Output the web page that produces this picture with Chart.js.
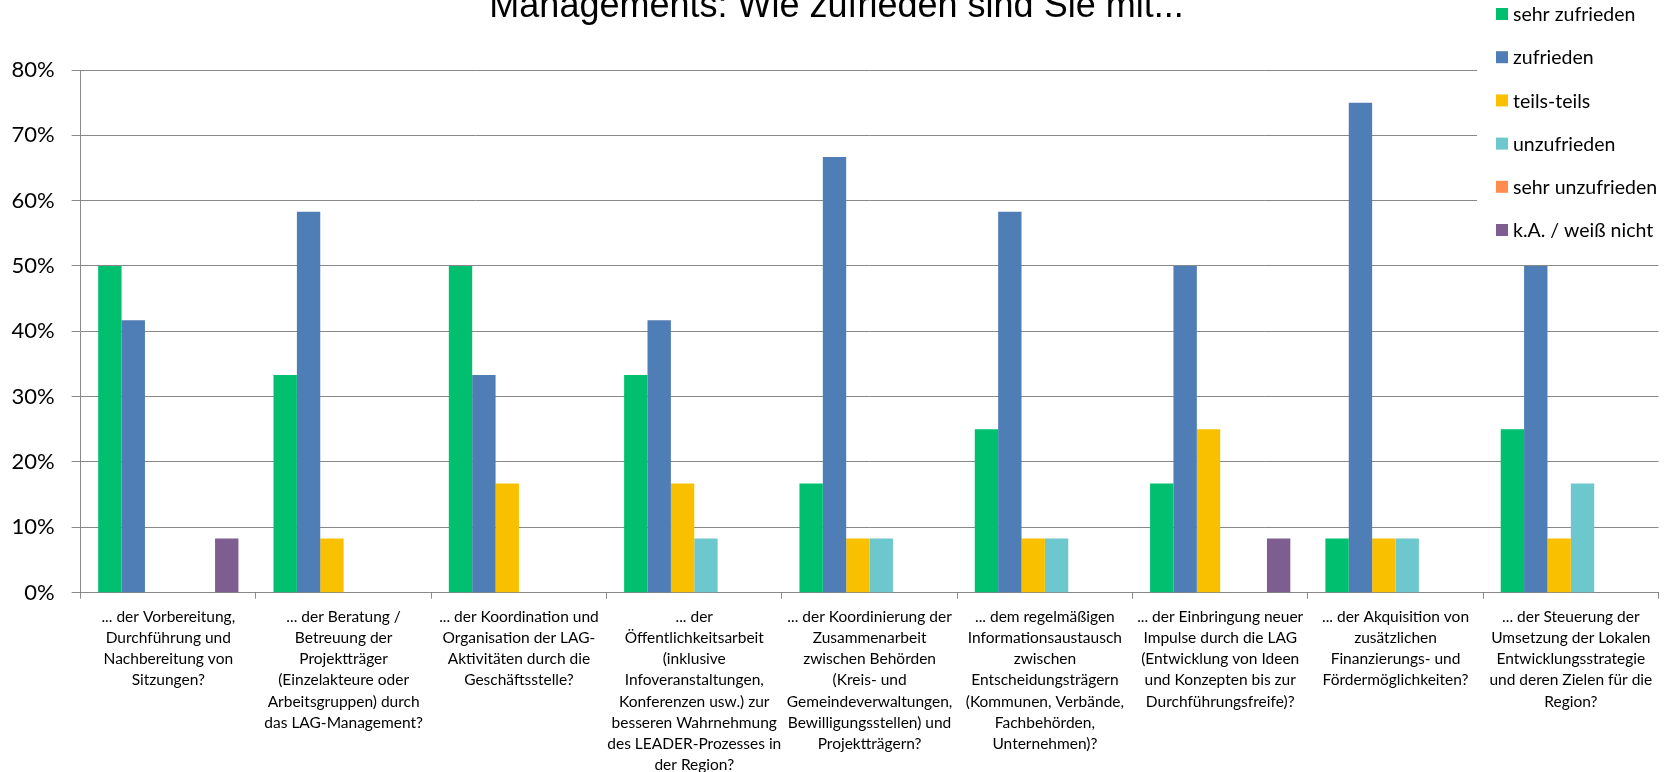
<!DOCTYPE html>
<html>
<head>
<meta charset="utf-8">
<script src="https://cdn.jsdelivr.net/npm/chart.js@4"></script>
<style>
  body { margin: 0; background: #fff; }
  canvas { display: block; }
</style>
</head>
<body>
<canvas id="chart" width="1666" height="772"></canvas>
<script>
const kategorien = [
    ['... der Vorbereitung,', 'Durchführung und', 'Nachbereitung von', 'Sitzungen?'],
    ['... der Beratung /', 'Betreuung der', 'Projektträger', '(Einzelakteure oder', 'Arbeitsgruppen) durch', 'das LAG-Management?'],
    ['... der Koordination und', 'Organisation der LAG-', 'Aktivitäten durch die', 'Geschäftsstelle?'],
    ['... der', 'Öffentlichkeitsarbeit', '(inklusive', 'Infoveranstaltungen,', 'Konferenzen usw.) zur', 'besseren Wahrnehmung', 'des LEADER-Prozesses in', 'der Region?'],
    ['... der Koordinierung der', 'Zusammenarbeit', 'zwischen Behörden', '(Kreis- und', 'Gemeindeverwaltungen,', 'Bewilligungsstellen) und', 'Projektträgern?'],
    ['... dem regelmäßigen', 'Informationsaustausch', 'zwischen', 'Entscheidungsträgern', '(Kommunen, Verbände,', 'Fachbehörden,', 'Unternehmen)?'],
    ['... der Einbringung neuer', 'Impulse durch die LAG', '(Entwicklung von Ideen', 'und Konzepten bis zur', 'Durchführungsfreife)?'],
    ['... der Akquisition von', 'zusätzlichen', 'Finanzierungs- und', 'Fördermöglichkeiten?'],
    ['... der Steuerung der', 'Umsetzung der Lokalen', 'Entwicklungsstrategie', 'und deren Zielen für die', 'Region?']
];

// Anteile in Prozent
const sehrZufrieden   = [50, 33.3, 50, 33.3, 16.7, 25, 16.7, 8.3, 25];
const zufrieden       = [41.7, 58.3, 33.3, 41.7, 66.7, 58.3, 50, 75, 50];
const teilsTeils      = [0, 8.3, 16.7, 16.7, 8.3, 8.3, 25, 8.3, 8.3];
const unzufrieden     = [0, 0, 0, 8.3, 8.3, 8.3, 0, 8.3, 16.7];
const sehrUnzufrieden = [0, 0, 0, 0, 0, 0, 0, 0, 0];
const keineAngabe     = [8.3, 0, 0, 0, 0, 0, 8.3, 0, 0];

const yTicks = [0, 10, 20, 30, 40, 50, 60, 70, 80];

// erste Titelzeile liegt oberhalb des Bildes, nur die zweite ist sichtbar
const titelZeile = '  Managements: Wie zufrieden sind Sie mit...';

const serien = [
    { label: 'sehr zufrieden', data: sehrZufrieden, color: '#00BF6F' },
    { label: 'zufrieden', data: zufrieden, color: '#4F7DB5' },
    { label: 'teils-teils', data: teilsTeils, color: '#F9C000' },
    { label: 'unzufrieden', data: unzufrieden, color: '#6CC8CC' },
    { label: 'sehr unzufrieden', data: sehrUnzufrieden, color: '#FF8B4F' },
    { label: 'k.A. / weiß nicht', data: keineAngabe, color: '#7E5E91' }
];

const gridGrau = '#888888';

// Legende rechts oben, liegt über dem Diagrammbereich
const legendePlugin = {
    id: 'legendeRechts',
    afterDraw(chart) {
        const ctx = chart.ctx;
        ctx.save();
        ctx.fillStyle = '#fff';
        ctx.fillRect(1477, 0, 189, 252);
        ctx.font = '19.5px Lato';
        ctx.textBaseline = 'middle';
        chart.data.datasets.forEach((ds, i) => {
            const y = 14 + i * 43.2;
            ctx.fillStyle = ds.backgroundColor;
            ctx.fillRect(1496, y - 6, 12, 12);
            ctx.fillStyle = '#000';
            ctx.fillText(ds.label, 1513, y + 1);
        });
        ctx.restore();
    }
};

Chart.defaults.font.family = 'Lato';
Chart.defaults.color = '#000';

new Chart(document.getElementById('chart'), {
    type: 'bar',
    data: {
        labels: kategorien,
        datasets: serien.map(s => ({
            label: s.label,
            data: s.data,
            backgroundColor: s.color,
            borderWidth: 0,
            categoryPercentage: 0.8,
            barPercentage: 1.0
        }))
    },
    options: {
        responsive: false,
        animation: false,
        layout: { padding: { left: -5.5, right: 7.5, top: 0, bottom: -11.3 } },
        plugins: {
            legend: { display: false },
            tooltip: { enabled: false },
            title: {
                display: true,
                text: titelZeile,
                color: '#000',
                font: { family: 'Liberation Sans', size: 36, weight: 'normal', lineHeight: 1.2 },
                padding: { top: -14.6, bottom: 41.4 }
            }
        },
        scales: {
            x: {
                grid: {
                    offset: true,
                    drawOnChartArea: false,
                    tickLength: 6,
                    color: gridGrau
                },
                border: { color: gridGrau },
                ticks: {
                    autoSkip: false,
                    maxRotation: 0,
                    minRotation: 0,
                    padding: 8,
                    font: { size: 15.5, lineHeight: 1.36 }
                }
            },
            y: {
                min: 0,
                max: 80,
                afterBuildTicks: axis => { axis.ticks = yTicks.map(v => ({ value: v })); },
                grid: { color: gridGrau, tickLength: 9 },
                border: { color: gridGrau },
                ticks: {
                    padding: 17,
                    font: { size: 22 },
                    callback: v => v + '%'
                }
            }
        }
    },
    plugins: [legendePlugin]
});
</script>
</body>
</html>
